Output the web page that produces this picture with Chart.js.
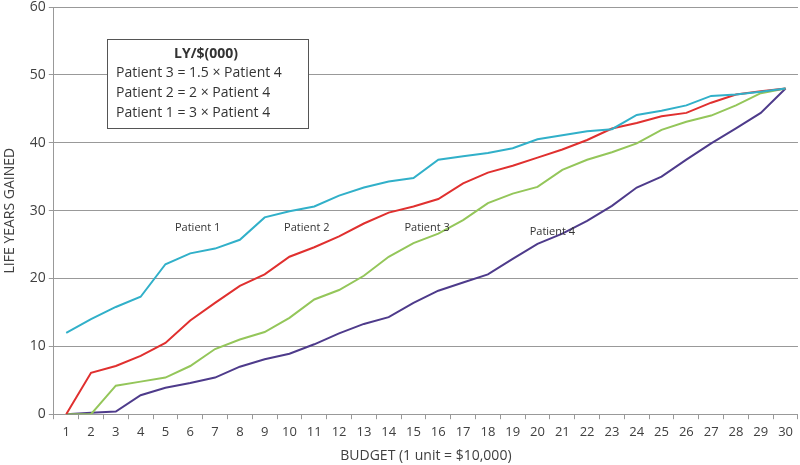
<!DOCTYPE html>
<html>
<head>
<meta charset="utf-8">
<script src="https://cdn.jsdelivr.net/npm/chart.js@4"></script>
<style>
  body { margin: 0; background: #fff; }
  #wrap { width: 800px; height: 465px; }
</style>
</head>
<body>
<div id="wrap"><canvas id="lyChart"></canvas></div>
<script>
const budget = ['1','2','3','4','5','6','7','8','9','10','11','12','13','14','15','16','17','18','19','20','21','22','23','24','25','26','27','28','29','30'];
const patient1 = [12, 14, 15.8, 17.3, 22.1, 23.7, 24.4, 25.7, 29, 29.9, 30.6, 32.2, 33.4, 34.3, 34.8, 37.5, 38, 38.5, 39.2, 40.5, 41.1, 41.7, 42, 44.1, 44.7, 45.5, 46.9, 47.1, 47.5, 48];
const patient2 = [0, 6.1, 7.1, 8.6, 10.5, 13.8, 16.4, 18.9, 20.6, 23.2, 24.6, 26.2, 28.1, 29.7, 30.6, 31.7, 34, 35.6, 36.6, 37.8, 39, 40.4, 42.1, 42.9, 43.9, 44.4, 45.9, 47.1, 47.6, 48];
const patient3 = [0, 0, 4.2, 4.8, 5.4, 7.1, 9.6, 11, 12.1, 14.2, 16.9, 18.3, 20.4, 23.2, 25.2, 26.6, 28.6, 31.1, 32.5, 33.5, 36, 37.5, 38.6, 39.9, 41.9, 43.1, 44, 45.5, 47.3, 48];
const patient4 = [0, 0.2, 0.4, 2.8, 3.9, 4.6, 5.4, 7, 8.1, 8.9, 10.3, 11.9, 13.3, 14.3, 16.4, 18.2, 19.4, 20.6, 22.9, 25.1, 26.6, 28.5, 30.7, 33.4, 35, 37.5, 39.9, 42.1, 44.4, 48];
const yTicks = [0, 10, 20, 30, 40, 50, 60];

// line labels, placed in data units (budget position, life years)
const lineLabels = [
    { text: 'Patient 1', x: 6.3, y: 27.5 },
    { text: 'Patient 2', x: 10.7, y: 27.5 },
    { text: 'Patient 3', x: 15.55, y: 27.5 },
    { text: 'Patient 4', x: 20.6, y: 26.8 }
];
const boxTitle = 'LY/$(000)';
const boxLines = ['Patient 3 = 1.5 \u00d7 Patient 4', 'Patient 2 = 2 \u00d7 Patient 4', 'Patient 1 = 3 \u00d7 Patient 4'];

const FONT = '"Open Sans", sans-serif';

const labelPlugin = {
    id: 'labels',
    afterDatasetsDraw(chart) {
        const c = chart.ctx;
        const xs = chart.scales.x, ys = chart.scales.y;
        c.save();
        c.fillStyle = '#333';
        c.font = '11px ' + FONT;
        c.textAlign = 'center';
        c.textBaseline = 'middle';
        lineLabels.forEach(l => {
            c.fillText(l.text, xs.getPixelForValue(l.x - 1), ys.getPixelForValue(l.y));
        });

        // ratio box
        c.fillStyle = '#fff';
        c.fillRect(107, 39, 201, 89);
        c.strokeStyle = '#555';
        c.lineWidth = 1;
        c.strokeRect(107.5, 39.5, 201, 89);
        c.fillStyle = '#333';
        c.font = 'bold 14px ' + FONT;
        c.fillText(boxTitle, 206, 54);
        c.font = '14px ' + FONT;
        c.textAlign = 'left';
        boxLines.forEach((t, i) => c.fillText(t, 116, 73 + i * 20));
        c.restore();
    }
};

const ctx = document.getElementById('lyChart').getContext('2d');
const lyChart = new Chart(ctx, {
    type: 'line',
    data: {
        labels: budget,
        datasets: [
            { label: 'Patient 1', data: patient1, borderColor: '#31b0c9' },
            { label: 'Patient 2', data: patient2, borderColor: '#e0302f' },
            { label: 'Patient 3', data: patient3, borderColor: '#94c65a' },
            { label: 'Patient 4', data: patient4, borderColor: '#4e3b8b' }
        ].map(d => Object.assign(d, { borderWidth: 2, pointRadius: 0, tension: 0, fill: false }))
    },
    options: {
        responsive: true,
        maintainAspectRatio: false,
        animation: false,
        layout: { padding: { top: 0, right: 0, left: 0, bottom: 0 } },
        plugins: { legend: { display: false }, tooltip: { enabled: false } },
        scales: {
            x: {
                offset: true,
                grid: { drawOnChartArea: false, drawTicks: true, tickLength: 5, offset: true, color: '#999' },
                border: { color: '#999' },
                ticks: { color: '#404040', font: { family: FONT, size: 13, lineHeight: 1 }, maxRotation: 0, autoSkip: false, padding: 7 },
                title: { display: true, text: 'BUDGET (1 unit = $10,000)', color: '#404040', font: { family: FONT, size: 14 }, padding: { top: 1, bottom: 1 } }
            },
            y: {
                min: 0,
                max: 60,
                afterBuildTicks: axis => { axis.ticks = yTicks.map(v => ({ value: v })); },
                afterFit: axis => { axis.paddingTop = 7; },
                grid: { color: '#999', tickLength: 5 },
                border: { color: '#999' },
                ticks: { color: '#404040', font: { family: FONT, size: 14, lineHeight: 1 }, padding: 3 },
                title: { display: true, text: 'LIFE YEARS GAINED', color: '#404040', font: { family: FONT, size: 14 }, padding: { top: 2, bottom: 8 } }
            }
        }
    },
    plugins: [labelPlugin]
});
</script>
</body>
</html>
